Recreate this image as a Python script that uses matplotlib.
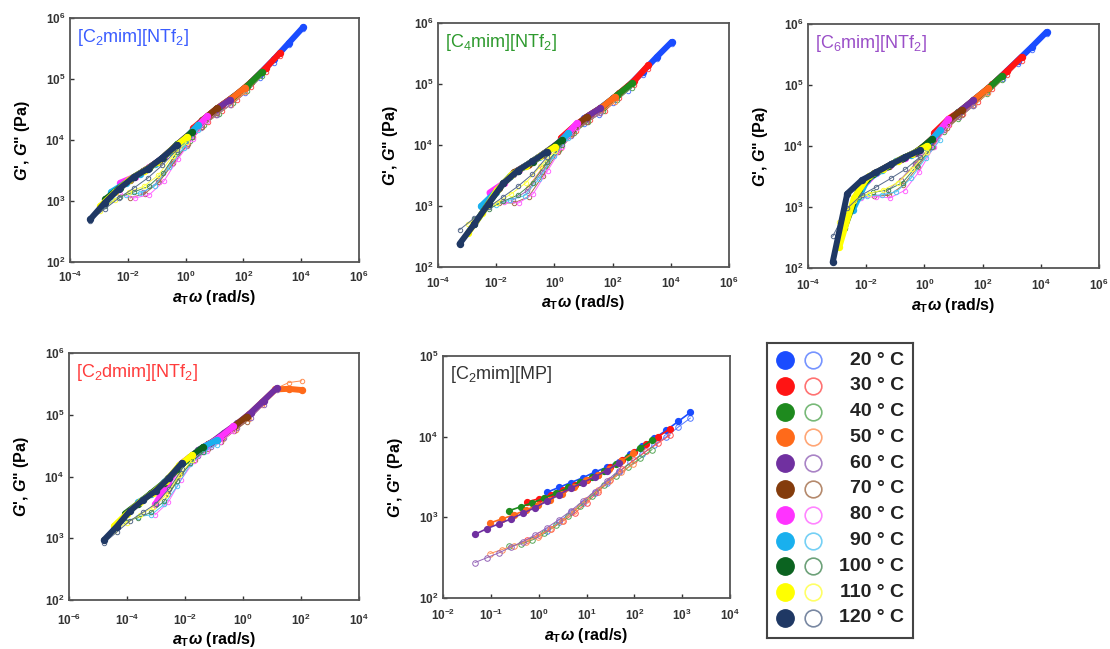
import numpy as np
import matplotlib
matplotlib.use("Agg")
import matplotlib.pyplot as plt
from matplotlib.colors import to_rgb

plt.rcParams['font.family'] = ['Liberation Sans', 'DejaVu Sans']
plt.rcParams['font.weight'] = 'bold'
plt.rcParams['mathtext.fontset'] = 'custom'
plt.rcParams['mathtext.it'] = 'Liberation Sans:italic:bold'
plt.rcParams['mathtext.rm'] = 'Liberation Sans:bold'
plt.rcParams['mathtext.bf'] = 'Liberation Sans:bold'

# temperatures (deg C) and their colours
temps = [20, 30, 40, 50, 60, 70, 80, 90, 100, 110, 120]
temp_colors = ['#1a4cff', '#ff1414', '#1e8a1e', '#ff6a1a', '#7030a0', '#843c0c',
               '#ff33ff', '#19b0ee', '#0b6320', '#ffff00', '#1f3864']

# measured angular frequencies (rad/s)
omega = [0.1, 0.316, 1.0, 3.16, 10.0, 31.6, 100.0]
omega_c2dmim = [0.1, 0.28, 0.79, 2.24, 6.3, 17.8, 50.1]
omega_mp = [0.1, 0.178, 0.316, 0.562, 1.0, 1.78, 3.16, 5.62, 10.0, 17.8, 31.6, 56.2, 100.0]

# ---- [C2mim][NTf2] : log10(aT), log10 G', log10 G'' ----
c2_temps = temps
c2_shift = [2.07, 1.27, 0.64, 0.06, -0.46, -0.92, -1.26, -1.57, -1.78, -1.95, -2.30]
c2_gp = [[4.51, 4.68, 4.86, 5.09, 5.33, 5.59, 5.85],
         [4.20, 4.40, 4.58, 4.75, 4.95, 5.18, 5.43],
         [3.90, 4.10, 4.35, 4.53, 4.70, 4.89, 5.12],
         [3.64, 3.86, 4.04, 4.31, 4.51, 4.67, 4.86],
         [3.49, 3.64, 3.85, 4.03, 4.30, 4.50, 4.66],
         [3.35, 3.50, 3.66, 3.87, 4.06, 4.32, 4.52],
         [3.30, 3.40, 3.55, 3.72, 3.94, 4.14, 4.39],
         [3.15, 3.30, 3.45, 3.60, 3.80, 3.99, 4.25],
         [3.03, 3.22, 3.40, 3.54, 3.71, 3.93, 4.13],
         [2.92, 3.14, 3.35, 3.49, 3.64, 3.86, 4.05],
         [2.70, 2.97, 3.20, 3.39, 3.53, 3.71, 3.92]]
c2_gpp = [[4.41, 4.58, 4.77, 5.01, 5.27, 5.55, 5.82],
          [4.05, 4.30, 4.48, 4.65, 4.87, 5.11, 5.38],
          [3.70, 3.98, 4.25, 4.43, 4.61, 4.81, 5.05],
          [3.34, 3.66, 3.92, 4.21, 4.41, 4.58, 4.78],
          [3.14, 3.31, 3.60, 3.90, 4.20, 4.41, 4.58],
          [3.05, 3.12, 3.31, 3.62, 3.94, 4.22, 4.44],
          [3.11, 3.05, 3.10, 3.32, 3.69, 4.02, 4.31],
          [3.02, 3.10, 3.13, 3.25, 3.55, 3.87, 4.17],
          [2.92, 3.07, 3.15, 3.24, 3.46, 3.81, 4.05],
          [2.84, 3.02, 3.15, 3.24, 3.42, 3.74, 3.97],
          [2.68, 2.87, 3.05, 3.21, 3.38, 3.59, 3.84]]

# ---- [C4mim][NTf2] ----
c4_temps = temps
c4_shift = [2.03, 1.23, 0.66, 0.08, -0.43, -0.89, -1.23, -1.52, -1.75, -1.98, -2.26]
c4_gp = [[4.44, 4.59, 4.77, 4.96, 5.20, 5.45, 5.69],
         [4.12, 4.33, 4.50, 4.65, 4.85, 5.05, 5.31],
         [3.87, 4.04, 4.29, 4.47, 4.63, 4.82, 5.01],
         [3.68, 3.84, 4.00, 4.25, 4.45, 4.60, 4.79],
         [3.53, 3.68, 3.84, 4.00, 4.24, 4.45, 4.60],
         [3.30, 3.55, 3.69, 3.85, 4.01, 4.27, 4.46],
         [3.22, 3.38, 3.59, 3.73, 3.90, 4.09, 4.36],
         [3.00, 3.23, 3.49, 3.65, 3.81, 3.96, 4.19],
         [2.70, 3.05, 3.37, 3.58, 3.72, 3.89, 4.08],
         [2.55, 2.88, 3.26, 3.51, 3.66, 3.82, 3.97],
         [2.38, 2.70, 3.04, 3.37, 3.58, 3.73, 3.89]]
c4_gpp = [[4.35, 4.50, 4.69, 4.89, 5.14, 5.41, 5.66],
          [3.95, 4.23, 4.41, 4.56, 4.77, 4.98, 5.25],
          [3.65, 3.92, 4.19, 4.38, 4.55, 4.74, 4.94],
          [3.30, 3.62, 3.90, 4.16, 4.37, 4.52, 4.71],
          [3.10, 3.25, 3.55, 3.88, 4.15, 4.37, 4.52],
          [3.05, 3.05, 3.15, 3.50, 3.88, 4.18, 4.38],
          [3.02, 3.06, 3.05, 3.20, 3.58, 3.97, 4.28],
          [2.88, 3.02, 3.10, 3.17, 3.45, 3.82, 4.11],
          [2.78, 2.95, 3.08, 3.18, 3.38, 3.72, 4.00],
          [2.70, 2.88, 3.05, 3.20, 3.38, 3.65, 3.90],
          [2.61, 2.80, 2.98, 3.15, 3.32, 3.52, 3.80]]

# ---- [C6mim][NTf2] ----
c6_temps = temps
c6_shift = [2.20, 1.34, 0.66, 0.20, -0.32, -0.72, -1.18, -1.46, -1.75, -1.92, -2.15]
c6_gp = [[4.56, 4.76, 4.95, 5.17, 5.40, 5.63, 5.87],
         [4.22, 4.45, 4.61, 4.81, 5.01, 5.23, 5.46],
         [3.89, 4.05, 4.33, 4.55, 4.74, 4.93, 5.15],
         [3.78, 3.90, 4.08, 4.36, 4.56, 4.76, 4.95],
         [3.65, 3.78, 3.89, 4.06, 4.35, 4.56, 4.75],
         [3.55, 3.68, 3.80, 3.91, 4.13, 4.41, 4.59],
         [3.30, 3.55, 3.69, 3.81, 3.92, 4.14, 4.44],
         [2.95, 3.45, 3.60, 3.75, 3.86, 3.99, 4.26],
         [2.65, 3.30, 3.54, 3.67, 3.80, 3.91, 4.11],
         [2.35, 3.15, 3.50, 3.62, 3.76, 3.87, 4.00],
         [2.10, 3.22, 3.44, 3.57, 3.70, 3.82, 3.93]]
c6_gpp = [[4.48, 4.68, 4.88, 5.10, 5.34, 5.58, 5.84],
          [4.08, 4.35, 4.52, 4.72, 4.93, 5.16, 5.40],
          [3.72, 3.95, 4.23, 4.45, 4.65, 4.85, 5.08],
          [3.45, 3.72, 3.98, 4.26, 4.47, 4.67, 4.87],
          [3.25, 3.45, 3.70, 3.97, 4.26, 4.47, 4.66],
          [3.18, 3.19, 3.36, 3.66, 3.99, 4.30, 4.50],
          [3.15, 3.17, 3.15, 3.27, 3.58, 3.98, 4.34],
          [3.02, 3.18, 3.20, 3.25, 3.47, 3.80, 4.10],
          [2.85, 3.16, 3.24, 3.28, 3.40, 3.68, 3.98],
          [2.75, 3.10, 3.22, 3.28, 3.40, 3.62, 3.90],
          [2.52, 2.98, 3.20, 3.33, 3.47, 3.62, 3.82]]

# ---- [C2dmim][NTf2] (50-120 C only) ----
c2d_temps = [50, 60, 70, 80, 90, 100, 110, 120]
c2d_shift = [0.32, -0.54, -1.57, -2.03, -2.61, -3.07, -3.45, -3.80]
c2d_gp = [[4.68, 4.84, 5.01, 5.21, 5.41, 5.42, 5.40],
          [4.43, 4.55, 4.71, 4.86, 5.03, 5.23, 5.43],
          [3.97, 4.21, 4.37, 4.52, 4.64, 4.81, 4.97],
          [3.55, 3.90, 4.21, 4.37, 4.51, 4.64, 4.81],
          [3.58, 3.72, 3.91, 4.12, 4.32, 4.48, 4.59],
          [3.40, 3.56, 3.73, 3.90, 4.11, 4.32, 4.48],
          [3.20, 3.40, 3.59, 3.74, 3.93, 4.18, 4.35],
          [2.97, 3.19, 3.44, 3.62, 3.77, 3.98, 4.22]]
c2d_gpp = [[4.60, 4.76, 4.93, 5.15, 5.42, 5.52, 5.55],
           [4.33, 4.47, 4.63, 4.78, 4.95, 5.16, 5.40],
           [3.72, 4.05, 4.27, 4.44, 4.56, 4.73, 4.89],
           [3.38, 3.58, 3.95, 4.25, 4.42, 4.56, 4.73],
           [3.35, 3.38, 3.55, 3.85, 4.20, 4.40, 4.51],
           [3.28, 3.33, 3.42, 3.60, 3.92, 4.22, 4.40],
           [3.12, 3.25, 3.38, 3.50, 3.70, 4.02, 4.27],
           [2.92, 3.10, 3.28, 3.42, 3.56, 3.80, 4.12]]

# ---- [C2mim][MP] (20-60 C only) ----
mp_temps = [20, 30, 40, 50, 60]
mp_shift = [1.17, 0.75, 0.37, -0.02, -0.33]
mp_gp = [[3.31, 3.37, 3.43, 3.49, 3.56, 3.62, 3.69, 3.79, 3.89, 3.98, 4.08, 4.19, 4.30],
         [3.19, 3.23, 3.28, 3.34, 3.40, 3.46, 3.53, 3.62, 3.71, 3.81, 3.91, 4.00, 4.10],
         [3.08, 3.13, 3.18, 3.24, 3.30, 3.37, 3.44, 3.50, 3.57, 3.66, 3.75, 3.86, 3.96],
         [2.93, 2.98, 3.03, 3.09, 3.15, 3.22, 3.29, 3.37, 3.46, 3.53, 3.60, 3.70, 3.80],
         [2.79, 2.86, 2.92, 2.98, 3.05, 3.12, 3.20, 3.28, 3.36, 3.43, 3.50, 3.58, 3.67]]
mp_gpp = [[2.83, 2.94, 3.06, 3.18, 3.30, 3.43, 3.56, 3.68, 3.79, 3.90, 4.00, 4.12, 4.23],
          [2.72, 2.78, 2.86, 2.95, 3.05, 3.18, 3.32, 3.46, 3.60, 3.71, 3.82, 3.92, 4.02],
          [2.64, 2.67, 2.72, 2.80, 2.90, 3.02, 3.14, 3.27, 3.40, 3.51, 3.62, 3.73, 3.84],
          [2.55, 2.60, 2.65, 2.70, 2.76, 2.85, 2.95, 3.08, 3.22, 3.34, 3.45, 3.56, 3.66],
          [2.44, 2.50, 2.56, 2.63, 2.70, 2.78, 2.87, 2.97, 3.08, 3.20, 3.32, 3.45, 3.58]]


def lighter(c, f):
    r = np.array(to_rgb(c))
    return tuple(r + (1 - r) * f)


def draw(ax, tlist, shift, gp, gpp, w, ms, lw, oms):
    for t, s, a, b in zip(tlist, shift, gp, gpp):
        c = temp_colors[temps.index(t)]
        x = np.array(w) * 10.0 ** s
        ax.plot(x, 10.0 ** np.array(b), '-', color=lighter(c, 0.25), lw=0.7,
                marker='o', ms=oms, mfc='none', mec=lighter(c, 0.25), mew=0.7)
        ax.plot(x, 10.0 ** np.array(a), '-', color=c, lw=lw, marker='o',
                ms=ms, mfc=c, mec=c, solid_capstyle='round')


def style(ax, xlim, ylim, xstep, title, tcolor, xpad):
    ax.set_xscale('log')
    ax.set_yscale('log')
    ax.set_xlim(*xlim)
    ax.set_ylim(*ylim)
    lx = np.log10(xlim)
    ly = np.log10(ylim)
    ax.set_xticks(10.0 ** np.arange(lx[0], lx[1] + 0.1, xstep))
    ax.set_yticks(10.0 ** np.arange(ly[0], ly[1] + 0.1, 1))
    ax.minorticks_off()
    ax.tick_params(direction='in', length=3, width=1, labelsize=8.5, colors='#333333')
    ax.tick_params(axis='x', pad=xpad)
    for sp in ax.spines.values():
        sp.set_color('#555555')
        sp.set_linewidth(1.3)
    ax.set_xlabel(r'$a_\mathdefault{T}\omega$ (rad/s)', fontsize=11.5,
                  fontweight='bold', labelpad=2)
    ax.set_ylabel("$G$', $G$\" (Pa)", fontsize=11.5, fontweight='bold', labelpad=10)
    ax.text(0.025, 0.965, title, transform=ax.transAxes, ha='left', va='top',
            fontsize=13, fontweight='normal', color=tcolor)


fig = plt.figure(figsize=(11.1, 6.49), dpi=100)
W, H = 1110, 649


def add_ax(l, t, r, b):
    return fig.add_axes([l / W, 1 - b / H, (r - l) / W, (b - t) / H])


ax1 = add_ax(70, 18, 359, 262)
draw(ax1, c2_temps, c2_shift, c2_gp, c2_gpp, omega, 4.3, 4.3, 3.2)
style(ax1, (1e-4, 1e6), (1e2, 1e6), 2, r'[C$_\mathdefault{2}$mim][NTf$_\mathdefault{2}$]', '#3a5cff', 5.5)

ax2 = add_ax(438, 23, 729, 267)
draw(ax2, c4_temps, c4_shift, c4_gp, c4_gpp, omega, 4.3, 4.3, 3.2)
style(ax2, (1e-4, 1e6), (1e2, 1e6), 2, r'[C$_\mathdefault{4}$mim][NTf$_\mathdefault{2}$]', '#2e9a2e', 6)

ax3 = add_ax(808, 24, 1099, 268)
draw(ax3, c6_temps, c6_shift, c6_gp, c6_gpp, omega, 4.3, 4.3, 3.2)
style(ax3, (1e-4, 1e6), (1e2, 1e6), 2, r'[C$_\mathdefault{6}$mim][NTf$_\mathdefault{2}$]', '#9a4fc8', 7)

ax4 = add_ax(69, 353, 359, 600)
draw(ax4, c2d_temps, c2d_shift, c2d_gp, c2d_gpp, omega_c2dmim, 4.3, 4.3, 3.2)
style(ax4, (1e-6, 1e4), (1e2, 1e6), 2, r'[C$_\mathdefault{2}$dmim][NTf$_\mathdefault{2}$]', '#ff3c3c', 9)

ax5 = add_ax(443, 356, 730, 598)
draw(ax5, mp_temps, mp_shift, mp_gp, mp_gpp, omega_mp, 4.2, 1.2, 4.0)
style(ax5, (1e-2, 1e4), (1e2, 1e5), 1, r'[C$_\mathdefault{2}$mim][MP]', '#333333', 7)

# legend box
lax = add_ax(767, 343, 913, 638)
lax.set_xlim(0, 1)
lax.set_ylim(10.78, -0.66)
lax.set_xticks([])
lax.set_yticks([])
for sp in lax.spines.values():
    sp.set_color('#444444')
    sp.set_linewidth(1.5)
for i, (t, c) in enumerate(zip(temps, temp_colors)):
    lax.plot(0.123, i, 'o', ms=12.5, color=c)
    lax.plot(0.313, i, 'o', ms=12, mfc='none', mec=lighter(c, 0.4), mew=1.2)
    lax.text(0.94, i, f'{t} \u00b0 C', ha='right', va='center', fontsize=14,
             fontweight='bold', color='#222222')

fig.savefig('out.png', dpi=100)
